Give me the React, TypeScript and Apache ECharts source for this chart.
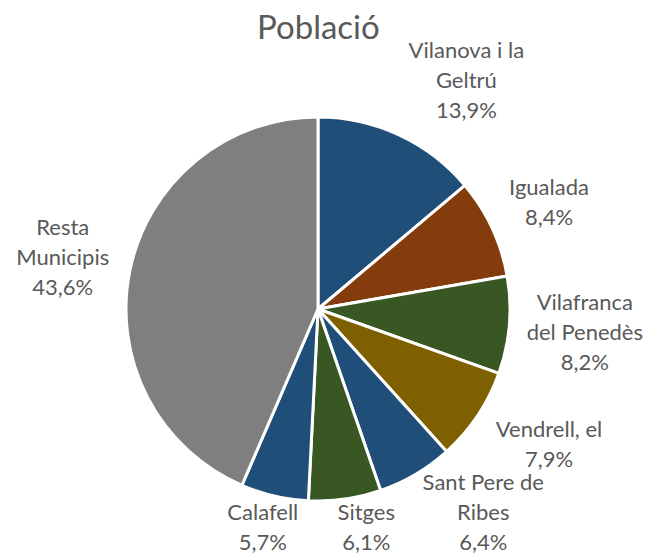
import React, { useEffect, useRef } from "react";
import * as echarts from "echarts";

const categories = [
  "Vilanova i la Geltrú",
  "Igualada",
  "Vilafranca del Penedès",
  "Vendrell, el",
  "Sant Pere de Ribes",
  "Sitges",
  "Calafell",
  "Resta Municipis",
];
const labelNames = [
  "Vilanova i la\nGeltrú",
  "Igualada",
  "Vilafranca\ndel Penedès",
  "Vendrell, el",
  "Sant Pere de\nRibes",
  "Sitges",
  "Calafell",
  "Resta\nMunicipis",
];
const shares = [13.9, 8.4, 8.2, 7.9, 6.4, 6.1, 5.7, 43.6];
const colors = ["#1F4E79", "#843C0C", "#385723", "#7F6000", "#1F4E79", "#385723", "#1F4E79", "#7F7F7F"];

const W = 649;
const H = 554;
const CX = 318;
const CY = 309;
const R = 192;
const GAP = 14;
const TOP_LIMIT = 34;
const BOTTOM_LIMIT = H + 2;
const FONT_SIZE = 22;
const LINE_H = 30;
const OVERLAP_OK = 7;
const PAD = (LINE_H - FONT_SIZE) / 2;

function labelText(i: number) {
  return labelNames[i] + "\n" + shares[i].toFixed(1).replace(".", ",") + "%";
}

function pushClear(x: number, y: number, w: number, h: number, s: number, rp: number) {
  const ny = Math.min(Math.max(CY, y - h), y + h);
  const dy = Math.abs(ny - CY);
  if (dy >= rp) return x;
  const xe = Math.sqrt(rp * rp - dy * dy);
  return s >= 0 ? Math.max(x, CX + xe + w) : Math.min(x, CX - xe - w);
}

function computeLabelPositions() {
  const canvas = document.createElement("canvas");
  const ctx = canvas.getContext("2d")!;
  ctx.font = `${FONT_SIZE}px Lato`;
  const total = shares.reduce((a, b) => a + b, 0);
  let cum = 0;
  const boxes = shares.map((v, i) => {
    const t = ((cum + v / 2) / total) * Math.PI * 2;
    cum += v;
    const lines = labelText(i).split("\n");
    const w = Math.max(...lines.map((l) => ctx.measureText(l).width)) / 2;
    const h = (lines.length * LINE_H) / 2;
    const s = Math.sin(t);
    const c = Math.cos(t);
    const d = R + GAP + Math.abs(w * s) + Math.abs(h * c);
    let x = CX + d * s;
    let y = CY - d * c;
    if (y - h < TOP_LIMIT) {
      y = TOP_LIMIT + h;
      x = pushClear(x, y, w, h, s, R + GAP);
    }
    if (y + h > BOTTOM_LIMIT) {
      y = BOTTOM_LIMIT - h;
      x = pushClear(x, y, w, h - PAD, s, R);
    }
    return { x, y, w, h, s };
  });
  // resolve vertical overlaps on the right side, working upward from the bottom
  const right = boxes.map((b, i) => i).filter((i) => boxes[i].s > 0.3).sort((a, b) => boxes[b].y - boxes[a].y);
  for (let k = 1; k < right.length; k++) {
    const below = boxes[right[k - 1]];
    const cur = boxes[right[k]];
    const maxY = below.y - below.h + OVERLAP_OK - cur.h;
    if (cur.y > maxY) {
      cur.y = maxY;
      cur.x = pushClear(cur.x, cur.y, cur.w, cur.h, cur.s, R + GAP);
    }
  }
  return boxes;
}

export default function App() {
  const ref = useRef<HTMLDivElement>(null);
  useEffect(() => {
    document.body.style.margin = "0";
    if (!ref.current) return;
    const chart = echarts.init(ref.current, null, { renderer: "svg" });
    const pos = computeLabelPositions();
    chart.setOption({
      animation: false,
      backgroundColor: "#ffffff",
      title: {
        text: "Població",
        left: 252,
        top: 4,
        textStyle: { fontFamily: "Lato", fontSize: 33, fontWeight: "normal", color: "#595959" },
      },
      series: [
        {
          type: "pie",
          center: [CX, CY],
          radius: R,
          startAngle: 90,
          clockwise: true,
          data: categories.map((name, i) => ({
            name,
            value: shares[i],
            itemStyle: { color: colors[i] },
          })),
          itemStyle: { borderColor: "#ffffff", borderWidth: 3 },
          emphasis: { disabled: true },
          label: {
            show: true,
            position: "outside",
            overflow: "none",
            fontFamily: "Lato",
            fontSize: FONT_SIZE,
            lineHeight: LINE_H,
            color: "#595959",
            align: "center",
            formatter: (p: any) => labelText(p.dataIndex),
          },
          labelLine: { show: false },
          labelLayout: (params: any) => {
            const b = pos[params.dataIndex];
            return { x: b.x, y: b.y, align: "center", verticalAlign: "middle" };
          },
        },
      ],
    });
    return () => chart.dispose();
  }, []);
  return <div ref={ref} style={{ width: W, height: H }} />;
}
